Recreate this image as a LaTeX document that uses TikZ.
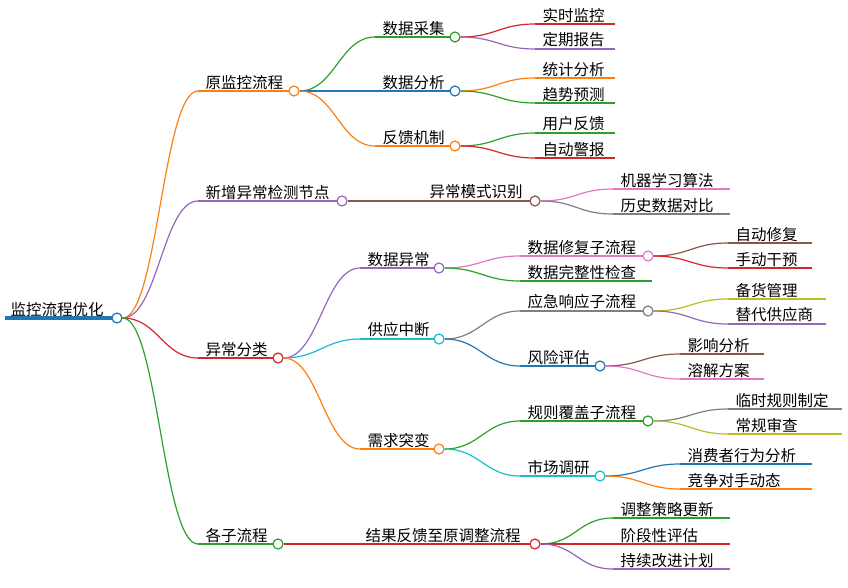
\documentclass[tikz,border=0pt]{standalone}
\usepackage{fontspec}
\newfontfamily\cjk{Noto Sans CJK SC}
\definecolor{mgreen}{RGB}{44,160,44}
\definecolor{mblue}{RGB}{31,119,180}
\definecolor{morange}{RGB}{255,127,14}
\definecolor{mpurple}{RGB}{148,103,189}
\definecolor{mred}{RGB}{214,39,40}
\definecolor{mbrown}{RGB}{140,86,75}
\definecolor{mpink}{RGB}{227,119,194}
\definecolor{mgray}{RGB}{127,127,127}
\definecolor{molive}{RGB}{188,189,34}
\definecolor{mcyan}{RGB}{23,190,207}
% topic: name, left end, right end, y, colour, text
\newcommand{\topic}[6]{%
  \coordinate (#1-l) at (#2,#4);
  \node [anchor=south west, inner sep=1.5pt, font=\cjk\fontsize{15.5}{17}\selectfont] (#1) at (#2+6,#4) {#6};
  \draw [#5, line width=1.2pt] (#1-l) -- (#3,#4) coordinate (#1-r);}
% topic with a knob at its right end
\newcommand{\knob}[6]{%
  \topic{#1}{#2}{#3}{#4}{#5}{#6}
  \node [knobstyle, draw=#5] (#1-c) at (#3+5,#4) {};}
% curved link from parent knob to child
\newcommand{\link}[3]{%
  \draw [#3, line width=1.2pt] (#1-c.east) .. controls +(35,0) and +(-35,0) .. (#2-l);}
\begin{document}
\begin{tikzpicture}[x=1pt, y=-1pt]
\tikzset{knobstyle/.style={circle, fill=white, line width=1.2pt, minimum size=10pt, inner sep=0pt}}
\useasboundingbox (0,0) rectangle (848,588);

% root
\coordinate (R-l) at (5,318);
\node [anchor=south west, inner sep=1.5pt, font=\cjk\fontsize{15.5}{17}\selectfont] (R) at (9,318) {监控流程优化};
\draw [mblue, line width=3.5pt] (R-l) -- (112,318);
\node [knobstyle, draw=mblue] (R-c) at (117,318) {};

% level one
\knob{A}{198}{289}{91}{morange}{原监控流程}
\knob{B}{198}{337}{201}{mpurple}{新增异常检测节点}
\knob{C}{198}{273}{358}{mred}{异常分类}
\knob{D}{198}{273}{544}{mgreen}{各子流程}
\link{R}{A}{morange}
\link{R}{B}{mpurple}
\link{R}{C}{mred}
\link{R}{D}{mgreen}

% original monitoring
\knob{A1}{375}{450}{37}{mgreen}{数据采集}
\knob{A2}{375}{450}{91}{mblue}{数据分析}
\knob{A3}{375}{450}{146}{morange}{反馈机制}
\link{A}{A1}{mgreen}
\link{A}{A2}{mblue}
\link{A}{A3}{morange}
\topic{A1a}{535}{615}{24}{mred}{实时监控}
\topic{A1b}{535}{615}{49}{mpurple}{定期报告}
\topic{A2a}{535}{615}{78}{morange}{统计分析}
\topic{A2b}{535}{615}{103}{mgreen}{趋势预测}
\topic{A3a}{535}{615}{133}{mgreen}{用户反馈}
\topic{A3b}{535}{615}{158}{mred}{自动警报}
\link{A1}{A1a}{mred}
\link{A1}{A1b}{mpurple}
\link{A2}{A2a}{morange}
\link{A2}{A2b}{mgreen}
\link{A3}{A3a}{mgreen}
\link{A3}{A3b}{mred}

% new detection node
\knob{B1}{422}{530}{201}{mbrown}{异常模式识别}
\link{B}{B1}{mbrown}
\topic{B1a}{613}{730}{189}{mpink}{机器学习算法}
\topic{B1b}{613}{730}{214}{mgray}{历史数据对比}
\link{B1}{B1a}{mpink}
\link{B1}{B1b}{mgray}

% classification
\knob{C1}{360}{434}{268}{mpurple}{数据异常}
\knob{C2}{360}{434}{339}{mcyan}{供应中断}
\knob{C3}{360}{434}{449}{morange}{需求突变}
\link{C}{C1}{mpurple}
\link{C}{C2}{mcyan}
\link{C}{C3}{morange}

\knob{C1a}{520}{643}{256}{mpink}{数据修复子流程}
\topic{C1b}{520}{652}{281}{mgreen}{数据完整性检查}
\link{C1}{C1a}{mpink}
\link{C1}{C1b}{mgreen}
\topic{C1a1}{728}{812}{243}{mbrown}{自动修复}
\topic{C1a2}{728}{812}{268}{mred}{手动干预}
\link{C1a}{C1a1}{mbrown}
\link{C1a}{C1a2}{mred}

\knob{C2a}{520}{643}{311}{mgray}{应急响应子流程}
\knob{C2b}{520}{595}{366}{mblue}{风险评估}
\link{C2}{C2a}{mgray}
\link{C2}{C2b}{mblue}
\topic{C2a1}{728}{826}{299}{molive}{备货管理}
\topic{C2a2}{728}{826}{324}{mpurple}{替代供应商}
\link{C2a}{C2a1}{molive}
\link{C2a}{C2a2}{mpurple}
\topic{C2b1}{680}{764}{354}{mbrown}{影响分析}
\topic{C2b2}{680}{764}{379}{mpink}{溶解方案}
\link{C2b}{C2b1}{mbrown}
\link{C2b}{C2b2}{mpink}

\knob{C3a}{520}{643}{421}{mgreen}{规则覆盖子流程}
\knob{C3b}{520}{595}{476}{mcyan}{市场调研}
\link{C3}{C3a}{mgreen}
\link{C3}{C3b}{mcyan}
\topic{C3a1}{728}{842}{409}{mgray}{临时规则制定}
\topic{C3a2}{728}{842}{434}{molive}{常规审查}
\link{C3a}{C3a1}{mgray}
\link{C3a}{C3a2}{molive}
\topic{C3b1}{680}{812}{464}{mblue}{消费者行为分析}
\topic{C3b2}{680}{812}{489}{morange}{竞争对手动态}
\link{C3b}{C3b1}{mblue}
\link{C3b}{C3b2}{morange}

% sub flows
\knob{D1}{358}{530}{544}{mred}{结果反馈至原调整流程}
\link{D}{D1}{mred}
\topic{D1a}{613}{730}{518}{mgreen}{调整策略更新}
\topic{D1b}{613}{730}{544}{mred}{阶段性评估}
\topic{D1c}{613}{730}{569}{mpurple}{持续改进计划}
\link{D1}{D1a}{mgreen}
\link{D1}{D1b}{mred}
\link{D1}{D1c}{mpurple}

\end{tikzpicture}
\end{document}
